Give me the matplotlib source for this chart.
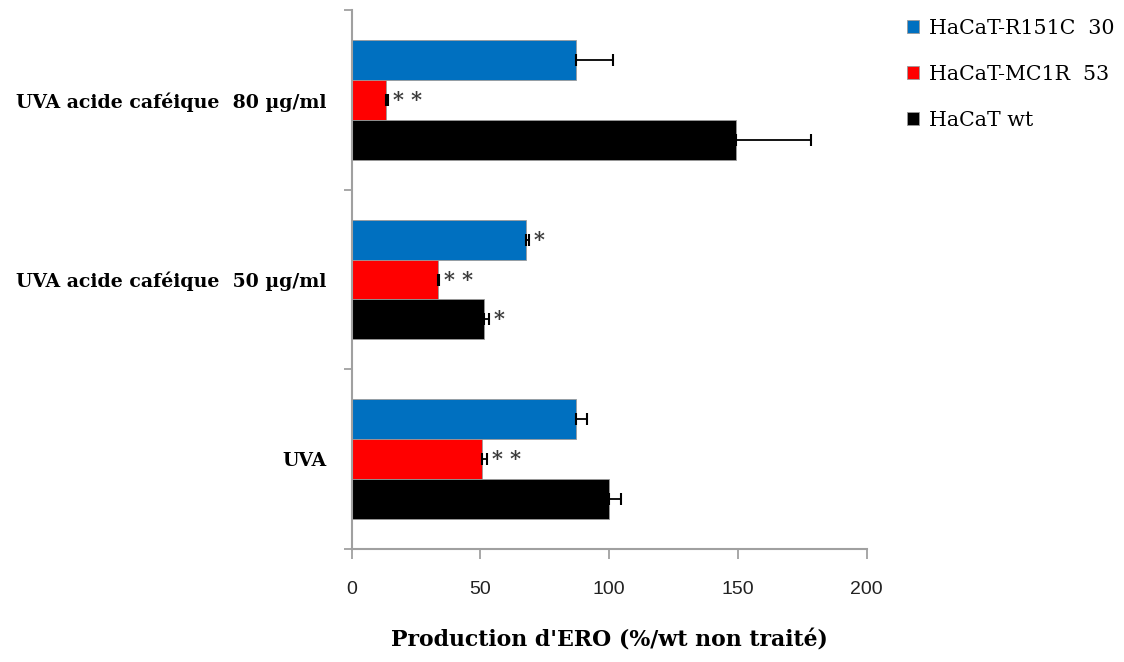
import matplotlib
matplotlib.use("Agg")
import matplotlib.pyplot as plt
import numpy as np

categories = ["UVA", "UVA acide caféique  50 µg/ml", "UVA acide caféique  80 µg/ml"]
series_names = ["HaCaT-R151C  30", "HaCaT-MC1R  53", "HaCaT wt"]
colors = ["#0070C0", "#FF0000", "#000000"]

blue_vals = [87.2, 67.6, 87.2]
red_vals = [50.8, 33.5, 13.3]
black_vals = [100.1, 51.4, 149.3]

blue_err = [4.4, 1.3, 14.3]
red_err = [1.9, 0.6, 1.0]
black_err = [4.5, 2.0, 29.0]

blue_sig = ["", "*", ""]
red_sig = ["**", "**", "**"]
black_sig = ["", "*", ""]

xticks = [0, 50, 100, 150, 200]

serif = ["DejaVu Serif"]

fig = plt.figure(figsize=(11.24, 6.62), dpi=100)
ax = fig.add_axes([351.5 / 1124, 1 - 549 / 662, (866.7 - 351.5) / 1124, (549 - 10) / 662])

y = np.arange(len(categories))
h = 0.222
offsets = [h, 0, -h]
vals = [blue_vals, red_vals, black_vals]
errs = [blue_err, red_err, black_err]
sigs = [blue_sig, red_sig, black_sig]

for v, e, s, off, c, name in zip(vals, errs, sigs, offsets, colors, series_names):
    e_arr = np.array([np.zeros(len(e)), np.array(e)])
    ax.barh(y + off, v, height=h, color=c, edgecolor="#9a9a9a", linewidth=0.6,
            xerr=e_arr, error_kw=dict(ecolor="black", elinewidth=1.3, capsize=4, capthick=1.5),
            label=name, zorder=2)
    for yi, vi, ei, si in zip(y + off, v, e, s):
        if si:
            ax.text(vi + ei + 1.8, yi, " ".join(si), va="center", ha="left",
                    fontsize=15, fontweight="bold", color="#3a3a3a", family=serif)

ax.set_xlim(0, 200)
ax.set_ylim(-0.5, 2.5)
ax.set_xticks(xticks)
ax.set_xticklabels([str(t) for t in xticks], fontsize=14, family=["Liberation Sans"], color="#222222")
ax.set_yticks([-0.5, 0.5, 1.5, 2.5])
ax.set_yticklabels([])
ax.set_yticks(y, minor=True)
ax.set_yticklabels(categories, minor=True, fontsize=13.6, fontweight="bold", family=serif)
ax.tick_params(axis="y", which="minor", length=0, pad=18)
ax.tick_params(axis="y", which="major", length=6, width=1.3, color="#a0a0a0", direction="out")
ax.tick_params(axis="x", length=7, width=1.3, color="#a0a0a0", direction="out", pad=16)

for sp in ["top", "right"]:
    ax.spines[sp].set_visible(False)
for sp in ["left", "bottom"]:
    ax.spines[sp].set_color("#a0a0a0")
    ax.spines[sp].set_linewidth(1.5)

ax.set_xlabel("Production d'ERO (%/wt non traité)", fontsize=15.8, fontweight="bold",
              family=serif, labelpad=23)

handles, labels = ax.get_legend_handles_labels()
leg = fig.legend(handles, labels, loc="upper left", bbox_to_anchor=(888 / 1124, 1.0),
                 frameon=False, prop=dict(family=serif, size=14.8),
                 handlelength=0.6, handleheight=0.6, handletextpad=0.5, labelspacing=1.32)

fig.savefig("out.png", dpi=100)
